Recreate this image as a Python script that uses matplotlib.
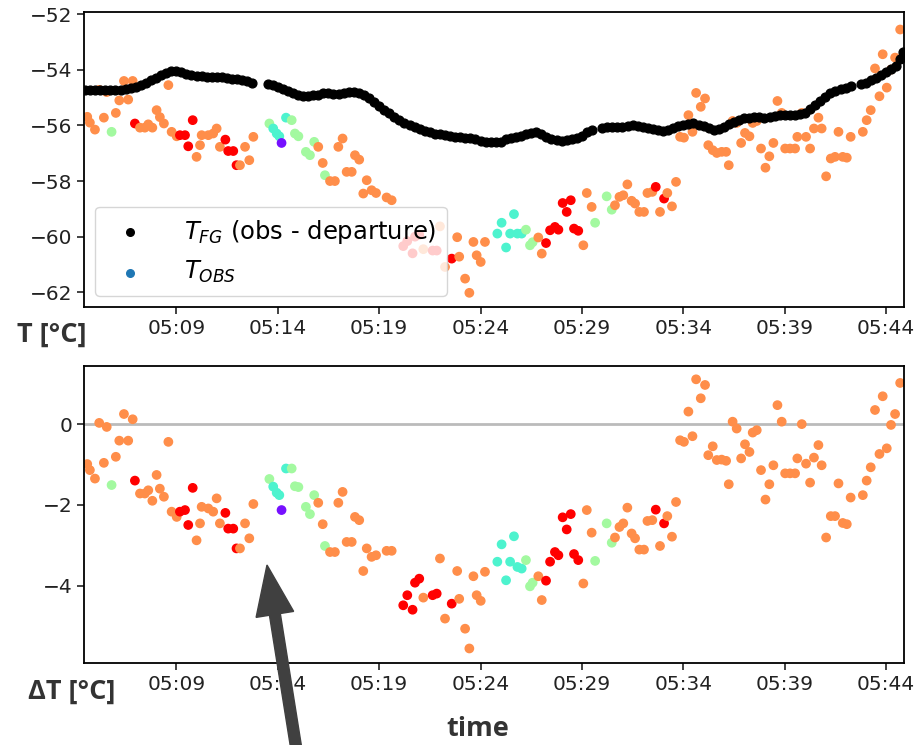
import numpy as np
import matplotlib
matplotlib.use("Agg")
import matplotlib.pyplot as plt
from matplotlib.patches import FancyArrow
from matplotlib.transforms import Affine2D

# ---------------- data (minutes after 05:00) ----------------
t_fg = [4.5, 4.75, 5.0, 5.25, 5.5, 5.75, 6.0, 6.25, 6.5, 6.75, 7.0, 7.25, 7.5, 7.75,
        8.0, 8.25, 8.5, 8.75, 9.0, 9.25, 9.5, 9.75, 10.0, 10.25, 10.5, 10.75, 11.0,
        11.25, 11.5, 11.75, 12.0, 12.25, 12.5, 12.75,
        13.5, 13.75, 14.0, 14.25, 14.5, 14.75, 15.0, 15.25, 15.5, 15.75, 16.0, 16.25,
        16.5, 16.75, 17.0, 17.25, 17.5, 17.75, 18.0, 18.25, 18.5, 18.75, 19.0, 19.25,
        19.5, 19.75, 20.0, 20.25, 20.5, 20.75, 21.0, 21.25, 21.5, 21.75, 22.0, 22.25,
        22.5, 22.75, 23.0, 23.25, 23.5, 23.75, 24.0, 24.25, 24.5, 24.75, 25.0, 25.25,
        25.5, 25.75, 26.0, 26.25, 26.5, 26.75, 27.0, 27.25, 27.5, 27.75, 28.0, 28.25,
        28.5, 28.75, 29.0, 29.25, 29.5,
        30.0, 30.25, 30.5, 30.75, 31.0, 31.25, 31.5, 31.75, 32.0, 32.25, 32.5, 32.75,
        33.0, 33.25, 33.5, 33.75, 34.0, 34.25, 34.5, 34.75, 35.0, 35.25, 35.5, 35.75,
        36.0, 36.25, 36.5, 36.75, 37.0, 37.25, 37.5, 37.75, 38.0, 38.25, 38.5, 38.75,
        39.0, 39.25, 39.5, 39.75, 40.0, 40.25, 40.5, 40.75, 41.0, 41.25, 41.5, 41.75,
        42.0, 42.25,
        42.75, 43.0, 43.25, 43.5, 43.75, 44.0, 44.25, 44.5, 44.7, 44.85]
T_fg = [-54.72, -54.72, -54.73, -54.74, -54.74, -54.73, -54.72, -54.72, -54.70, -54.67,
        -54.62, -54.55, -54.47, -54.38, -54.28, -54.18, -54.10, -54.04, -54.03, -54.07,
        -54.15, -54.20, -54.22, -54.23, -54.24, -54.25, -54.26, -54.27, -54.29, -54.32,
        -54.34, -54.36, -54.40, -54.48,
        -54.52, -54.55, -54.60, -54.68, -54.76, -54.84, -54.90, -54.93, -54.94, -54.92,
        -54.90, -54.85, -54.82, -54.86, -54.88, -54.83, -54.78, -54.78, -54.84, -54.90,
        -55.00, -55.15, -55.30, -55.43, -55.55, -55.68, -55.80, -55.90, -55.97, -56.05,
        -56.13, -56.20, -56.25, -56.30, -56.32, -56.35, -56.37, -56.40, -56.42, -56.44,
        -56.46, -56.50, -56.55, -56.58, -56.60, -56.60, -56.58, -56.50, -56.45, -56.42,
        -56.38, -56.30, -56.27, -56.24, -56.30, -56.40, -56.47, -56.52, -56.55, -56.53,
        -56.50, -56.45, -56.38, -56.25, -56.15,
        -56.08, -56.06, -56.05, -56.05, -56.04, -56.02, -56.00, -56.02, -56.05, -56.08,
        -56.12, -56.17, -56.20, -56.18, -56.10, -56.03, -55.98, -55.95, -55.93, -55.98,
        -56.03, -56.10, -56.15, -56.13, -56.05, -55.95, -55.88, -55.80, -55.75, -55.73,
        -55.70, -55.70, -55.72, -55.68, -55.65, -55.64, -55.63, -55.63, -55.62, -55.60,
        -55.55, -55.42, -55.28, -55.12, -54.98, -54.85, -54.76, -54.70, -54.64, -54.58,
        -54.50, -54.46, -54.38, -54.28, -54.18, -54.08, -53.98, -53.85, -53.60, -53.35]

# observations: time, T_obs, departure, quality flag (O, R, G, C, P)
t_obs = [4.61, 4.74, 4.99, 5.2, 5.43, 5.57, 5.81, 6.02, 6.19, 6.42, 6.63, 6.85, 6.96,
         7.21, 7.45, 7.62, 7.82, 8.03, 8.19, 8.39, 8.61, 8.77, 9.02, 9.18, 9.43, 9.59,
         9.81, 10.0, 10.17, 10.25, 10.58, 10.82, 10.99, 11.15, 11.42, 11.56, 11.81,
         11.97, 12.14, 12.39, 12.6, 12.8, 13.59, 13.78, 13.95, 14.08, 14.19, 14.41,
         14.69, 14.85, 15.02, 15.39, 15.59, 15.8, 16.0, 16.22, 16.33, 16.58, 16.82,
         16.99, 17.2, 17.4, 17.65, 17.81, 18.02, 18.22, 18.39, 18.63, 18.85, 19.37,
         19.62, 20.19, 20.39, 20.65, 20.77, 20.98, 21.18, 21.64, 21.84, 22.0, 22.25,
         22.58, 22.85, 22.95, 23.24, 23.45, 23.65, 23.81, 24.01, 24.22, 24.83, 25.04,
         25.26, 25.46, 25.65, 25.82, 26.03, 26.24, 26.44, 26.57, 26.85, 27.02, 27.23,
         27.43, 27.67, 27.84, 28.05, 28.25, 28.45, 28.61, 28.82, 29.07, 29.24, 29.48,
         29.65, 30.22, 30.47, 30.63, 30.85, 31.04, 31.24, 31.45, 31.62, 31.83, 32.06,
         32.23, 32.47, 32.64, 32.85, 33.05, 33.21, 33.44, 33.64, 33.84, 34.03, 34.25,
         34.45, 34.63, 34.86, 35.07, 35.23, 35.45, 35.65, 35.89, 36.11, 36.24, 36.43,
         36.63, 36.85, 37.04, 37.26, 37.42, 37.62, 37.83, 38.05, 38.24, 38.44, 38.64,
         38.85, 39.02, 39.26, 39.51, 39.62, 39.84, 40.05, 40.25, 40.44, 40.66, 40.82,
         41.04, 41.27, 41.48, 41.65, 41.86, 42.06, 42.25, 42.85, 43.04, 43.24, 43.45,
         43.67, 43.83, 44.03, 44.24, 44.44, 44.69]
T_obs = [-55.69, -55.90, -56.15, -54.72, -55.72, -54.80, -56.23, -55.55, -55.10, -54.40,
         -55.07, -54.40, -55.93, -56.08, -56.08, -55.96, -56.08, -55.45, -55.70, -55.93,
         -54.55, -56.23, -56.39, -56.35, -56.35, -56.75, -55.81, -57.13, -56.71, -56.35,
         -56.35, -56.29, -56.11, -56.77, -56.51, -56.92, -56.92, -57.43, -57.43, -56.77,
         -57.25, -56.41, -55.93, -56.11, -56.29, -56.39, -56.63, -55.72, -55.81, -56.29,
         -56.39, -56.95, -57.07, -56.59, -56.77, -57.35, -57.79, -58.00, -58.00, -56.77,
         -56.47, -57.67, -57.67, -57.07, -57.23, -58.45, -57.97, -58.33, -58.43, -58.59,
         -58.69, -60.34, -60.16, -60.60, -60.00, -59.93, -60.45, -60.50, -60.50, -59.63,
         -61.09, -60.79, -60.02, -60.72, -61.51, -62.02, -60.19, -60.67, -60.91, -60.19,
         -59.89, -59.50, -60.39, -59.89, -59.19, -59.89, -59.89, -59.75, -60.31, -60.20,
         -60.03, -60.61, -60.23, -59.77, -59.65, -59.75, -58.79, -59.11, -58.69, -59.71,
         -59.79, -60.31, -58.43, -58.93, -59.50, -58.55, -59.03, -58.87, -58.57, -58.51,
         -58.12, -58.71, -58.81, -59.11, -59.11, -58.43, -58.39, -58.21, -59.11, -58.63,
         -58.43, -58.91, -58.03, -56.41, -56.44, -55.63, -56.23, -54.83, -55.33, -55.03,
         -56.71, -56.89, -56.99, -56.95, -56.95, -57.43, -55.84, -55.91, -56.63, -56.27,
         -56.39, -55.91, -55.84, -56.83, -57.52, -57.11, -56.63, -55.12, -55.55, -56.83,
         -56.83, -56.83, -56.41, -55.55, -56.41, -56.83, -56.11, -55.72, -56.11, -57.83,
         -57.19, -57.13, -56.23, -57.13, -57.16, -56.41, -56.23, -55.81, -55.45, -53.95,
         -54.95, -53.44, -54.64, -53.99, -53.56, -52.55]
dT_obs = [-0.99, -1.14, -1.35, 0.03, -0.96, -0.07, -1.51, -0.81, -0.41, 0.25, -0.41, 0.12,
          -1.40, -1.72, -1.72, -1.64, -1.90, -1.26, -1.60, -1.80, -0.44, -2.17, -2.30,
          -2.17, -2.13, -2.50, -1.58, -2.88, -2.46, -2.05, -2.09, -2.17, -1.84, -2.46,
          -2.20, -2.59, -2.59, -3.08, -3.08, -2.46, -2.83, -1.98, -1.36, -1.55, -1.70,
          -1.76, -2.13, -1.10, -1.10, -1.54, -1.56, -2.05, -2.23, -1.76, -1.95, -2.48,
          -3.02, -3.17, -3.17, -1.95, -1.68, -2.92, -2.92, -2.30, -2.38, -3.64, -3.08,
          -3.29, -3.25, -3.14, -3.14, -4.49, -4.24, -4.60, -3.93, -3.83, -4.30, -4.24,
          -4.20, -3.33, -4.82, -4.45, -3.64, -4.33, -5.07, -5.56, -3.77, -4.24, -4.38,
          -3.66, -3.41, -2.98, -3.87, -3.41, -2.78, -3.54, -3.58, -3.37, -4.02, -3.93,
          -3.77, -4.36, -3.88, -3.41, -3.17, -3.25, -2.31, -2.61, -2.23, -3.22, -3.37,
          -3.95, -2.13, -2.69, -3.39, -2.46, -2.94, -2.81, -2.55, -2.46, -2.07, -2.71,
          -2.83, -3.11, -3.11, -2.40, -2.38, -2.12, -3.02, -2.46, -2.28, -2.79, -1.93,
          -0.40, -0.44, 0.31, -0.30, 1.11, 0.64, 0.97, -0.77, -0.55, -0.89, -0.88, -0.91,
          -1.49, 0.06, -0.11, -0.85, -0.50, -0.69, -0.21, -0.15, -1.14, -1.87, -1.49,
          -1.02, 0.47, 0.06, -1.22, -1.22, -1.22, -0.85, 0.00, -0.98, -1.45, -0.83,
          -0.52, -1.02, -2.81, -2.28, -2.28, -1.47, -2.45, -2.48, -1.82, -1.76, -1.40,
          -1.07, 0.35, -0.74, 0.69, -0.60, -0.02, 0.25, 1.02]
flag_obs = list(
    "OOOOOOGOOOOOR"          # 04:36 - 05:06
    "OOOOOOOOOORRRR"         # 05:07 - 05:09
    "OOOOOOORRRRO"           # 05:10 - 05:12
    "OOOG" "CCCP" "CGGGGGG"  # 05:12 - 05:15
    "OOGOOOOOOOOOOOOOO"      # 05:16 - 05:19
    "RRRRROR"                # 05:20 - 05:21
    "ROOROOOOOOOO"           # 05:21 - 05:24
    "CCCCCCCGGG"             # 05:24 - 05:26
    "OORRRRRRRRROOO"         # 05:26 - 05:29
    "GGGOOOOOOOOOORORO"      # 05:29 - 05:33
    "OOOOOOOOOOOOOOOOOOOOOOOOOOOOOOOOOOOOOOOOOOOOOOOOOOOOOOO"  # 05:33 - 05:44
)

tick_minutes = [9, 14, 19, 24, 29, 34, 39, 44]
tick_labels = ["05:09", "05:14", "05:19", "05:24", "05:29", "05:34", "05:39", "05:44"]

# ---------------- style ----------------
flag_pos = {"P": 0.02, "C": 0.40, "G": 0.57, "O": 0.81, "R": 1.0}
cmap = plt.get_cmap("rainbow")
n = min(len(t_obs), len(T_obs), len(dT_obs))
flags = (flag_obs + ["O"] * n)[:n]
cols = [cmap(flag_pos[f]) for f in flags]

W, H = 922, 745
fig = plt.figure(figsize=(W / 100, H / 100), dpi=100)
left, width = 84 / W, 820 / W
ax1 = fig.add_axes([left, 1 - 307 / H, width, 295 / H])
ax2 = fig.add_axes([left, 1 - 663 / H, width, 297 / H])

fs = 14.5
for ax in (ax1, ax2):
    for sp in ax.spines.values():
        sp.set_linewidth(1.3)
    ax.set_xlim(4.45, 44.88)
    ax.set_xticks(tick_minutes)
    ax.set_xticklabels(tick_labels)
    ax.tick_params(labelsize=fs, length=5, width=1.2, colors="#222222")

ax1.scatter(t_fg, T_fg, s=40, c="black", zorder=3)
ax1.scatter(t_obs[:n], T_obs[:n], s=36, c=cols, zorder=2)
ax1.set_ylim(-62.53, -51.92)
ax1.set_yticks([-62, -60, -58, -56, -54, -52])
ax1.set_yticklabels(["\u221262", "\u221260", "\u221258", "\u221256", "\u221254", "\u221252"])

h1 = ax1.scatter([], [], s=30, c="black", label="$T_{FG}$ (obs - departure)")
h2 = ax1.scatter([], [], s=30, c="#1f77b4", label="$T_{OBS}$")
leg = ax1.legend(handles=[h1, h2], loc="lower left", fontsize=17.5, framealpha=0.8,
                 borderaxespad=0.45, handletextpad=1.2, labelspacing=0.55,
                 borderpad=0.45)
leg.set_zorder(5)

ax2.axhline(0, color="#bbbbbb", lw=2, zorder=1)
ax2.scatter(t_obs[:n], dT_obs[:n], s=36, c=cols, zorder=2)
ax2.set_ylim(-5.92, 1.44)
ax2.set_yticks([-4, -2, 0])
ax2.set_yticklabels(["\u22124", "\u22122", "0"])

lab = dict(fontsize=19.5, fontweight="bold", family=["Open Sans", "DejaVu Sans"],
           color="#333333", ha="center", va="center")
fig.text(52 / W, 1 - 335 / H, "T [°C]", **lab)
fig.text(72 / W, 1 - 692 / H, "\u0394T [°C]", **lab)
fig.text(478 / W, 1 - 729 / H, "time", **lab)

# annotation arrow (figure pixel coordinates)
pix = Affine2D().scale(1 / W, 1 / H) + fig.transFigure
arrow = FancyArrow(297, -8, -30, 188, width=11, head_width=38, head_length=50,
                   length_includes_head=True, color="#404040", transform=pix)
fig.add_artist(arrow)

fig.savefig("out.png", dpi=100)
